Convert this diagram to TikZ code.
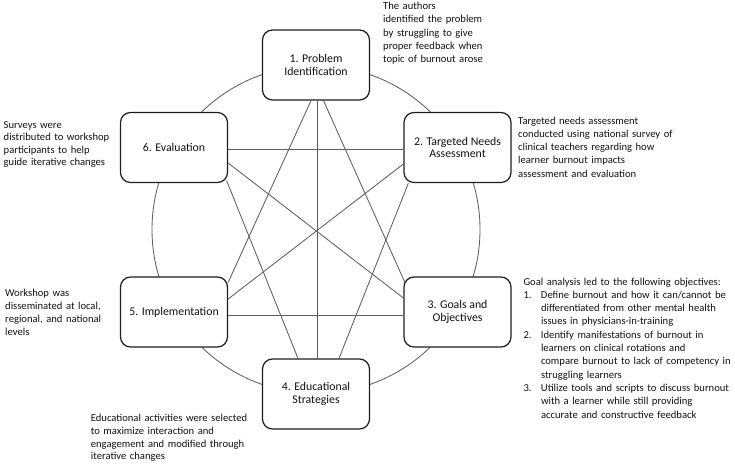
\documentclass[tikz,border=0pt]{standalone}
\usepackage{fontspec}
\setmainfont{Carlito}
\usetikzlibrary{calc,backgrounds}
\definecolor{linegray}{HTML}{5E5E5E}
\definecolor{boxline}{HTML}{1E1E1E}
\definecolor{txt}{HTML}{111111}
\newcommand{\itm}[1]{\makebox[17.5pt][l]{#1}}
\newcommand{\ind}{\hspace*{17.5pt}}
\begin{document}
\begin{tikzpicture}[x=1pt,y=-1pt,
  stage/.style={draw=boxline,line width=1.25pt,fill=white,rounded corners=10pt,
    minimum width=107pt,minimum height=70pt,align=center,text=txt,
    font=\fontsize{11.8}{12.5}\selectfont,inner sep=2pt},
  note/.style={anchor=base west,inner sep=0pt,align=left,text=txt,
    font=\fontsize{10.6}{13.3}\selectfont},
  link/.style={draw=linegray,line width=0.85pt}]
\useasboundingbox (0,0) rectangle (735,464);

\node[stage] (b1) at (316,65) {1. Problem\\Identification};
\node[stage] (b2) at (457.5,147.5) {2. Targeted Needs\\Assessment};
\node[stage] (b3) at (457.5,312) {3. Goals and\\Objectives};
\node[stage] (b4) at (316,394) {4. Educational\\Strategies};
\node[stage] (b5) at (174,312) {5. Implementation};
\node[stage] (b6) at (174,147.5) {6. Evaluation};

\begin{scope}[on background layer]
  \coordinate (cc) at ($(b1)!0.5!(b4)$);
  \draw[link] (cc) circle[radius=164];
  % from 1
  \draw[link] ($(b1.south)+(1,0)$) -- ($(b4.north)+(1,0)$);
  \draw[link] ($(b1.south)+(-5,0)$) -- ($(b5.north east)+(0,6)$);
  \draw[link] ($(b1.south)+(7.5,0)$) -- ($(b3.north west)+(1.5,6)$);
  % horizontals
  \draw[link] ($(b6.east)+(0,1.5)$) -- ($(b2.west)+(0,1.5)$);
  \draw[link] ($(b5.east)+(0,3)$) -- ($(b3.west)+(0,3)$);
  % diagonals
  \draw[link] ($(b6.east)+(0,15.5)$) -- ($(b3.west)+(0,-14)$);
  \draw[link] ($(b5.east)+(0,-13)$) -- ($(b2.west)+(0,16.5)$);
  % to 4
  \draw[link] ($(b6.south east)+(-1.5,-2.5)$) -- ($(b4.north)+(-18,0)$);
  \draw[link] ($(b2.south west)+(5,0)$) -- ($(b4.north)+(23,0)$);
\end{scope}

\node[note,text width=120pt] (n1) at (383,9.5)
  {The authors\\identified the problem\\by struggling to give\\proper feedback when\\topic of burnout arose};
\node[note,text width=180pt] (n2) at (518,124)
  {Targeted needs assessment\\conducted using national survey of\\clinical teachers regarding how\\learner burnout impacts\\assessment and evaluation};
\node[note,text width=120pt,font=\fontsize{10.6}{12.3}\selectfont] (n6) at (3.5,128.5)
  {Surveys were\\distributed to workshop\\participants to help\\guide iterative changes};
\node[note,text width=120pt,font=\fontsize{10.6}{13}\selectfont] (n5) at (5,296)
  {Workshop was\\disseminated at local,\\regional, and national\\levels};
\node[note,text width=250pt] (n3) at (523.3,285)
  {Goal analysis led to the following objectives:\\
   \itm{1.}Define burnout and how it can/cannot be\\
   \ind differentiated from other mental health\\
   \ind issues in physicians-in-training\\
   \itm{2.}Identify manifestations of burnout in\\
   \ind learners on clinical rotations and\\
   \ind compare burnout to lack of competency in\\
   \ind struggling learners\\
   \itm{3.}Utilize tools and scripts to discuss burnout\\
   \ind with a learner while still providing\\
   \ind accurate and constructive feedback};
\node[note,text width=200pt,font=\fontsize{10.6}{12.8}\selectfont] (n4) at (90.7,421.5)
  {Educational activities were selected\\to maximize interaction and\\engagement and modified through\\iterative changes};
\end{tikzpicture}
\end{document}
